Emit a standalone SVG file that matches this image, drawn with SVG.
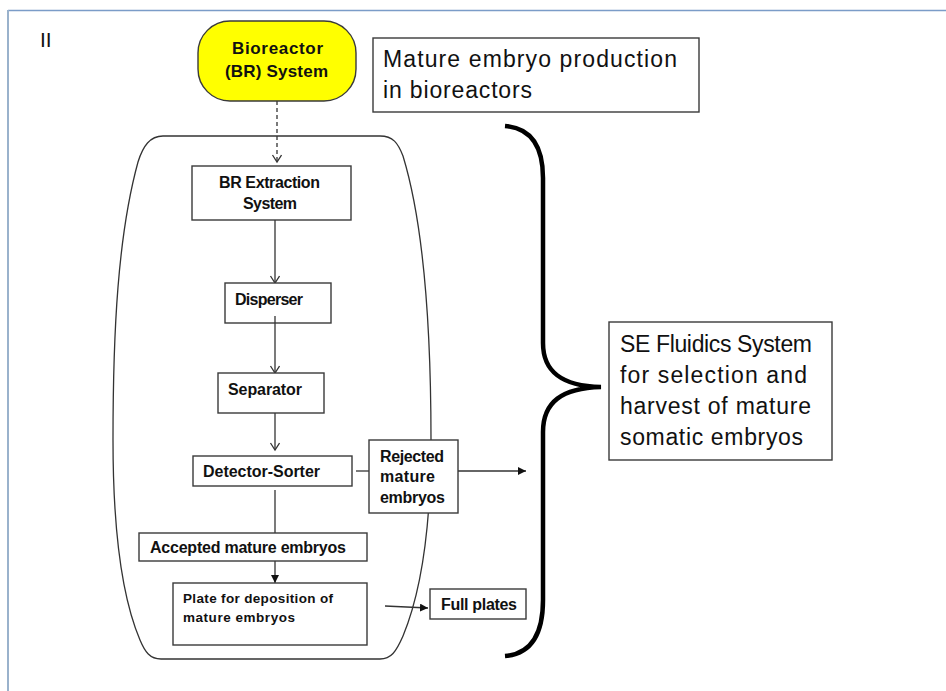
<svg xmlns="http://www.w3.org/2000/svg" width="946" height="691" viewBox="0 0 946 691">
<style>
  .box{fill:#fff;stroke:#3a3a3a;stroke-width:1.4}
  .lbl{font-family:"Liberation Sans",Arial,sans-serif;font-weight:bold;fill:#111;font-size:16px}
  .big{font-family:"Liberation Sans",Arial,sans-serif;font-size:23px;fill:#111}
  .conn{fill:none;stroke:#333;stroke-width:1.3}
</style>
<defs>
  <marker id="open" markerUnits="userSpaceOnUse" markerWidth="12" markerHeight="12" refX="8" refY="5" orient="auto">
    <path d="M1,0.5 L8,5 L1,9.5" fill="none" stroke="#333" stroke-width="1.3"/>
  </marker>
  <marker id="fill" markerUnits="userSpaceOnUse" markerWidth="12" markerHeight="12" refX="8" refY="4" orient="auto">
    <path d="M0,0 L8,4 L0,8 Z" fill="#111"/>
  </marker>
</defs>
<rect width="946" height="691" fill="#fff"/>
<g id="frame">
  <line x1="8" y1="10.5" x2="946" y2="10.5" stroke="#7b9cc8" stroke-width="1.6"/>
  <line x1="8" y1="10" x2="8" y2="691" stroke="#9ab2cc" stroke-width="2"/>
</g>
<text x="40" y="47" style="font-family:'Liberation Sans',Arial,sans-serif;font-size:21px;fill:#111">II</text>

<g id="container">
  <path d="M163,136 L380,136 C393,136 398,143 403,156 C424,225 431,330 431,440 C431,525 422,590 403,636 C396,652 391,659 380,659 L161,659 C150,659 145,652 140,640 C123,600 113,540 113,440 C113,330 118,235 138,162 C143,146 150,136 163,136 Z" fill="none" stroke="#333" stroke-width="1.3"/>
</g>

<g id="connectors">
  <path class="conn" d="M277,101 V162" stroke-dasharray="4,3" marker-end="url(#open)"/>
  <path class="conn" d="M275,220 V283" marker-end="url(#open)"/>
  <path class="conn" d="M275,316 V373" marker-end="url(#open)"/>
  <path class="conn" d="M275,413 V450" marker-end="url(#open)"/>
  <path class="conn" d="M356,471 H369"/>
  <path class="conn" d="M458,471 H526" marker-end="url(#fill)"/>
  <path class="conn" d="M275,490 V533"/>
  <path class="conn" d="M275,561 V583" marker-end="url(#fill)"/>
  <path class="conn" d="M385,606 L428,608" marker-end="url(#fill)"/>
</g>

<g id="bioreactor">
  <rect x="198" y="21" width="158" height="80" rx="32" ry="32" fill="#ffff00" stroke="#3a3a3a" stroke-width="1.4"/>
  <text class="lbl" x="277.5" y="54" style="font-size:17px" text-anchor="middle" textLength="91">Bioreactor</text>
  <text class="lbl" x="276.5" y="77" style="font-size:17px" text-anchor="middle" textLength="103">(BR) System</text>
</g>

<g id="mature-production">
  <rect class="box" x="373" y="38" width="326" height="74"/>
  <text class="big" x="383" y="67" textLength="294">Mature embryo production</text>
  <text class="big" x="383" y="98" textLength="149">in bioreactors</text>
</g>

<g id="extraction">
  <rect class="box" x="192" y="166" width="159" height="54"/>
  <text class="lbl" x="219" y="188" textLength="101">BR Extraction</text>
  <text class="lbl" x="243" y="209" textLength="54">System</text>
</g>

<g id="disperser">
  <rect class="box" x="225" y="283" width="106" height="40"/>
  <text class="lbl" x="235" y="305" textLength="68">Disperser</text>
</g>
<path class="conn" d="M275,316 V323"/>

<g id="separator">
  <rect class="box" x="218" y="373" width="106" height="40"/>
  <text class="lbl" x="228" y="395" textLength="74">Separator</text>
</g>

<g id="detector">
  <rect class="box" x="193" y="456" width="159" height="30"/>
  <text class="lbl" x="203" y="477" textLength="117">Detector-Sorter</text>
</g>

<g id="rejected">
  <rect class="box" x="369" y="440" width="89" height="73"/>
  <text class="lbl" x="380" y="462" textLength="64">Rejected</text>
  <text class="lbl" x="380" y="482" textLength="55">mature</text>
  <text class="lbl" x="380" y="503" textLength="65">embryos</text>
</g>

<g id="accepted">
  <rect class="box" x="139" y="533" width="228" height="28"/>
  <text class="lbl" x="150" y="553" textLength="196">Accepted mature embryos</text>
</g>

<g id="plate">
  <rect class="box" x="173" y="583" width="194" height="62"/>
  <text class="lbl" x="183" y="603" style="font-size:13.5px" textLength="150">Plate for deposition of</text>
  <text class="lbl" x="183" y="622" style="font-size:13.5px" textLength="112">mature embryos</text>
</g>

<g id="full-plates">
  <rect class="box" x="430" y="589" width="96" height="30"/>
  <text class="lbl" x="441" y="610" textLength="76">Full plates</text>
</g>

<g id="brace">
  <path d="M505,126 C530,128 543,145 543,178 L543,343 C543,372 562,386 601,387 C562,388 543,402 543,432 L543,600 C543,635 530,654 505,656" fill="none" stroke="#000" stroke-width="4.5"/>
</g>

<g id="se-fluidics">
  <rect class="box" x="609" y="322" width="223" height="138"/>
  <text class="big" x="620" y="352" textLength="192">SE Fluidics System</text>
  <text class="big" x="620" y="383" textLength="187">for selection and</text>
  <text class="big" x="620" y="414" textLength="191">harvest of mature</text>
  <text class="big" x="620" y="445" textLength="183">somatic embryos</text>
</g>
</svg>
